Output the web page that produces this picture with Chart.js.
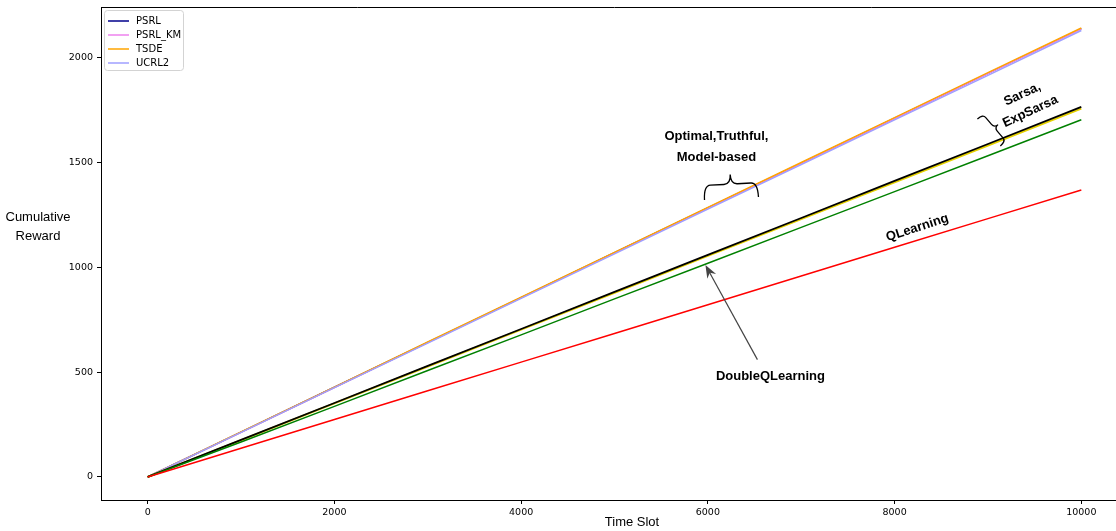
<!DOCTYPE html>
<html>
<head>
<meta charset="utf-8">
<script src="https://cdn.jsdelivr.net/npm/chart.js@4.4.0/dist/chart.umd.min.js"></script>
<style>
  html, body { margin: 0; padding: 0; background: #fff; overflow: hidden; width: 1116px; height: 531px; }
  canvas { display: block; }
</style>
</head>
<body>
<canvas id="chart" width="1130" height="531"></canvas>
<script>
// time slots and cumulative reward
const timeSlots = [0, 1000, 2000, 3000, 4000, 5000, 6000, 7000, 8000, 9000, 10000];
const psrl      = [0, 214, 428, 642, 856, 1070, 1284, 1498, 1712, 1926, 2140];
const psrlKm    = [0, 213, 427, 641, 855, 1069, 1283, 1497, 1711, 1925, 2138];
const tsde      = [0, 215, 429, 644, 858, 1072, 1287, 1501, 1715, 1930, 2143];
const ucrl2     = [0, 213, 426, 639, 852, 1065, 1278, 1491, 1704, 1917, 2131];
const expSarsa  = [0, 175, 351, 527, 703, 879, 1055, 1231, 1406, 1582, 1758];
const sarsa     = [0, 177, 353, 530, 706, 883, 1060, 1236, 1413, 1589, 1766];
const doubleQ   = [0, 167, 337, 508, 678, 850, 1020, 1191, 1362, 1533, 1705];
const qLearning = [0, 137, 274, 411, 548, 685, 822, 959, 1096, 1233, 1370];

const xTicks = [0, 2000, 4000, 6000, 8000, 10000];
const yTicks = [0, 500, 1000, 1500, 2000];
const legendLabels = ['PSRL', 'PSRL_KM', 'TSDE', 'UCRL2'];

const series = [
  { label: 'PSRL', data: psrl, color: '#00008b', width: 1.5 },
  { label: 'PSRL_KM', data: psrlKm, color: '#ee82ee', width: 1.5 },
  { label: 'TSDE', data: tsde, color: '#ffa500', width: 1.5 },
  { label: 'UCRL2', data: ucrl2, color: '#9f9fff', width: 1.5 },
  { label: 'ExpSarsa', data: expSarsa, color: '#e6d200', width: 2 },
  { label: 'Sarsa', data: sarsa, color: '#000000', width: 1.8 },
  { label: 'DoubleQLearning', data: doubleQ, color: '#008000', width: 1.5 },
  { label: 'QLearning', data: qLearning, color: '#ff0000', width: 1.5 }
];

const tickFont = { family: '"DejaVu Sans"', size: 9.5 };
const boldFont = 'bold 13px "Liberation Sans", Arial, sans-serif';

function drawBrace(ctx, x1, y1, x2, y2, d) {
  const L = Math.hypot(x2 - x1, y2 - y1);
  const a = Math.atan2(y2 - y1, x2 - x1);
  const h = d * 0.6, q = Math.min(h, L / 8);
  ctx.save();
  ctx.translate(x1, y1);
  ctx.rotate(a);
  ctx.beginPath();
  ctx.moveTo(0, 0);
  ctx.quadraticCurveTo(0, -h, q, -h);
  ctx.lineTo(L / 2 - q, -h);
  ctx.quadraticCurveTo(L / 2, -h, L / 2, -d);
  ctx.quadraticCurveTo(L / 2, -h, L / 2 + q, -h);
  ctx.lineTo(L - q, -h);
  ctx.quadraticCurveTo(L, -h, L, 0);
  ctx.stroke();
  ctx.restore();
}

function rotatedLines(ctx, x, y, angle, lines, spacing) {
  ctx.save();
  ctx.translate(x, y);
  ctx.rotate(angle * Math.PI / 180);
  const off = (lines.length - 1) * spacing / 2;
  lines.forEach((t, i) => ctx.fillText(t, 0, i * spacing - off));
  ctx.restore();
}

const extras = {
  id: 'extras',
  afterDraw(chart) {
    const ctx = chart.ctx;
    const area = chart.chartArea;
    const xs = chart.scales.x, ys = chart.scales.y;
    const px = v => xs.getPixelForValue(v);
    const py = v => ys.getPixelForValue(v);

    ctx.save();
    // top spine
    ctx.strokeStyle = '#000';
    ctx.lineWidth = 1;
    ctx.beginPath();
    ctx.moveTo(area.left, Math.round(area.top) + 0.5);
    ctx.lineTo(area.right, Math.round(area.top) + 0.5);
    ctx.stroke();

    // axis titles
    ctx.fillStyle = '#000';
    ctx.font = '13px "Liberation Sans", Arial, sans-serif';
    ctx.textAlign = 'center';
    ctx.textBaseline = 'middle';
    ctx.fillText('Cumulative', area.left - 63, py(1240));
    ctx.fillText('Reward', area.left - 63, py(1150));
    ctx.fillText('Time Slot', area.left + 531, area.bottom + 22);

    // legend
    const lx = area.left + 3, ly = area.top + 3;
    ctx.fillStyle = 'rgba(255,255,255,0.85)';
    ctx.strokeStyle = '#d3d3d3';
    ctx.lineWidth = 1;
    ctx.beginPath();
    ctx.roundRect(lx + 0.5, ly + 0.5, 79, 60, 3);
    ctx.fill();
    ctx.stroke();
    ctx.font = '10px "DejaVu Sans", sans-serif';
    ctx.textAlign = 'left';
    legendLabels.forEach((name, i) => {
      const s = series.find(d => d.label === name);
      const y = ly + 11 + i * 14;
      ctx.strokeStyle = s.color;
      ctx.lineWidth = 1.5;
      ctx.beginPath();
      ctx.moveTo(lx + 4, y);
      ctx.lineTo(lx + 25, y);
      ctx.stroke();
      ctx.fillStyle = '#000';
      ctx.fillText(name, lx + 32, y);
    });

    // annotations
    ctx.fillStyle = '#000';
    ctx.font = boldFont;
    ctx.textAlign = 'center';
    ctx.fillText('Optimal,Truthful,', px(6092), py(1623));
    ctx.fillText('Model-based', px(6092), py(1527));
    rotatedLines(ctx, px(9411), py(1785), -25, ['Sarsa,', 'ExpSarsa'], 19);
    rotatedLines(ctx, px(8244), py(1189), -18, ['QLearning'], 0);
    ctx.fillText('DoubleQLearning', px(6670), py(482));

    ctx.strokeStyle = '#000';
    ctx.lineWidth = 1.3;
    drawBrace(ctx, px(5964), py(1322), px(6542), py(1336), 24);
    drawBrace(ctx, px(8887), py(1709), px(9133), py(1580), 12);

    // arrow to DoubleQLearning line
    const tx = px(6531), ty = py(560), hx = px(5974), hy = py(1012);
    const ang = Math.atan2(hy - ty, hx - tx);
    ctx.strokeStyle = '#444';
    ctx.fillStyle = '#444';
    ctx.lineWidth = 1.2;
    ctx.beginPath();
    ctx.moveTo(tx, ty);
    ctx.lineTo(hx - 8 * Math.cos(ang), hy - 8 * Math.sin(ang));
    ctx.stroke();
    ctx.translate(hx, hy);
    ctx.rotate(ang);
    ctx.beginPath();
    ctx.moveTo(0, 0);
    ctx.lineTo(-13, -5);
    ctx.lineTo(-9, 0);
    ctx.lineTo(-13, 5);
    ctx.closePath();
    ctx.fill();
    ctx.restore();
  }
};

new Chart(document.getElementById('chart'), {
  type: 'line',
  data: {
    datasets: series.map((s, i) => ({
      label: s.label,
      data: timeSlots.map((t, j) => ({ x: t, y: s.data[j] })),
      borderColor: s.color,
      backgroundColor: s.color,
      borderWidth: s.width,
      pointRadius: 0,
      tension: 0,
      fill: false,
      order: series.length - i
    }))
  },
  options: {
    responsive: false,
    animation: false,
    devicePixelRatio: 1,
    layout: { padding: { top: 7, right: 2, left: 0, bottom: 0 } },
    plugins: { legend: { display: false }, tooltip: { enabled: false } },
    scales: {
      x: {
        type: 'linear',
        min: -500,
        max: 10500,
        afterFit: scale => { scale.height = 31; scale.paddingLeft = 0; scale.paddingRight = 0; },
        afterBuildTicks: scale => { scale.ticks = xTicks.map(v => ({ value: v })); },
        ticks: { color: '#000', font: tickFont, padding: 3, maxRotation: 0, callback: v => String(v) },
        grid: { display: true, drawOnChartArea: false, drawTicks: true, tickLength: 4, color: '#000', tickWidth: 1 },
        border: { display: true, color: '#000', width: 1 }
      },
      y: {
        type: 'linear',
        min: -110,
        max: 2243,
        afterFit: scale => { scale.width = 101; scale.paddingTop = 0; scale.paddingBottom = 0; },
        afterBuildTicks: scale => { scale.ticks = yTicks.map(v => ({ value: v })); },
        ticks: { color: '#000', font: tickFont, padding: 4, callback: v => String(v) },
        grid: { display: true, drawOnChartArea: false, drawTicks: true, tickLength: 4, color: '#000', tickWidth: 1 },
        border: { display: true, color: '#000', width: 1 }
      }
    }
  },
  plugins: [extras]
});
</script>
</body>
</html>
